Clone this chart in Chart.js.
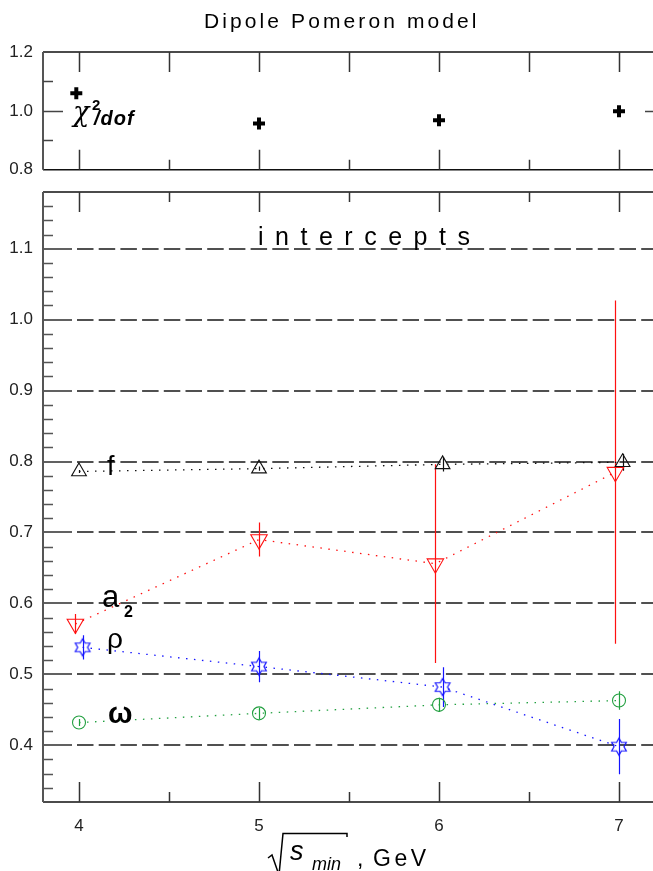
<!DOCTYPE html>
<html>
<head>
<meta charset="utf-8">
<title>Dipole Pomeron model</title>
<script src="https://cdn.jsdelivr.net/npm/chart.js@4.4.0/dist/chart.umd.min.js"></script>
<style>
  html, body { margin: 0; padding: 0; background: #fff; overflow: hidden; width: 653px; height: 871px; }
  #wrap { position: relative; width: 653px; height: 871px; overflow: hidden; }
  #wrap canvas { position: absolute; left: 0; top: 0; }
</style>
</head>
<body>
<div id="wrap">
  <canvas id="chart-chi" width="660" height="190" style="width:660px;height:190px"></canvas>
  <canvas id="chart-int" width="660" height="871" style="width:660px;height:871px"></canvas>
</div>
<script>
/* data */
var X_TICKS = [4, 5, 6, 7];
var CHI_TICKS = [0.8, 1.0, 1.2];
var INT_TICKS = [0.4, 0.5, 0.6, 0.7, 0.8, 0.9, 1.0, 1.1];

var CHI_X = [3.985, 5.0, 6.0, 7.0];
var CHI_Y = [1.060, 0.957, 0.968, 0.999];

var F_X = [4.0, 5.0, 6.02, 7.02];
var F_Y = [0.786, 0.790, 0.796, 0.799];
var F_ERR = [0.002, 0.003, 0.010, 0.012];

var A2_X = [3.98, 5.0, 5.98, 6.98];
var A2_Y = [0.571, 0.690, 0.656, 0.785];
var A2_ERR = [0.014, 0.024, 0.140, 0.242];

var RHO_X = [4.02, 5.0, 6.02, 7.0];
var RHO_Y = [0.538, 0.511, 0.482, 0.398];
var RHO_ERR = [0.017, 0.022, 0.028, 0.039];

var OMEGA_X = [4.0, 5.0, 6.0, 7.0];
var OMEGA_Y = [0.432, 0.445, 0.457, 0.463];
var OMEGA_ERR = [0.005, 0.008, 0.010, 0.013];

(function () {
  "use strict";

  var RED = "#ff1010", BLUE = "#1414ff", GREEN = "#22a040", INK = "#111", GRID = "#505050";
  var FONT = "'Liberation Sans', Arial, sans-serif";

  function pts(xs, ys) { return xs.map(function (x, i) { return { x: x, y: ys[i] }; }); }

  function spaced(ctx, text, x, y, gap) {
    for (var i = 0; i < text.length; i++) {
      ctx.fillText(text[i], x, y);
      x += ctx.measureText(text[i]).width + gap;
    }
  }

  /* hexagram outline used for the rho points */
  function starImage(color) {
    var c = document.createElement("canvas");
    c.width = 22; c.height = 22;
    var g = c.getContext("2d"), R = 8.5, r = R / Math.sqrt(3);
    g.strokeStyle = color; g.lineWidth = 1.2;
    g.beginPath();
    for (var k = 0; k < 12; k++) {
      var a = -Math.PI / 2 + k * Math.PI / 6, rr = k % 2 ? r : R;
      var px = 11 + rr * Math.cos(a), py = 11 + rr * Math.sin(a);
      if (k) g.lineTo(px, py); else g.moveTo(px, py);
    }
    g.closePath(); g.stroke();
    return c;
  }

  function fixedTicks(list) {
    return function (scale) { scale.ticks = list.map(function (v) { return { value: v }; }); };
  }

  var tickFont = { family: FONT, size: 17 };

  /* ---- frame + ticks shared by both panels (right edge falls off the page) */
  function drawFrame(ctx, a) {
    ctx.save();
    ctx.strokeStyle = INK; ctx.lineWidth = 1.5;
    ctx.beginPath();
    ctx.moveTo(a.left, a.top); ctx.lineTo(a.right + 5, a.top);
    ctx.moveTo(a.left, a.bottom); ctx.lineTo(a.right + 5, a.bottom);
    ctx.stroke();
    ctx.strokeStyle = "#555"; ctx.lineWidth = 2;
    ctx.beginPath(); ctx.moveTo(a.left, a.top); ctx.lineTo(a.left, a.bottom); ctx.stroke();
    ctx.restore();
  }

  function xTickMarks(ctx, chart, topHalfLong) {
    var x = chart.scales.x, a = chart.chartArea;
    ctx.save();
    ctx.strokeStyle = "#333"; ctx.lineWidth = 1.5;
    ctx.beginPath();
    for (var v = 4; v <= 7.001; v += 0.5) {
      var px = Math.round(x.getPixelForValue(v)) + 0.5;
      var major = Math.abs(v - Math.round(v)) < 1e-6;
      var lt = major || topHalfLong ? 20 : 10, lb = major ? 20 : 10;
      ctx.moveTo(px, a.top); ctx.lineTo(px, a.top + lt);
      ctx.moveTo(px, a.bottom); ctx.lineTo(px, a.bottom - lb);
    }
    ctx.stroke();
    ctx.restore();
  }

  /* ---- top panel: chi2/dof --------------------------------------------- */
  var chiDecor = {
    id: "chiDecor",
    afterDraw: function (chart) {
      var ctx = chart.ctx, a = chart.chartArea, y = chart.scales.y;
      drawFrame(ctx, a);
      xTickMarks(ctx, chart, true);
      ctx.save();
      ctx.strokeStyle = "#444"; ctx.lineWidth = 1.5;
      ctx.beginPath();
      [0.9, 1.0, 1.1].forEach(function (v) {
        var py = Math.round(y.getPixelForValue(v)) + 0.5;
        ctx.moveTo(a.left, py); ctx.lineTo(a.left + (v === 1.0 ? 20 : 10), py);
      });
      var p1 = Math.round(y.getPixelForValue(1.0)) + 0.5;
      ctx.moveTo(a.right, p1); ctx.lineTo(a.right - 10, p1);
      ctx.stroke();

      ctx.fillStyle = "#000";
      ctx.textBaseline = "alphabetic";
      ctx.font = "21px " + FONT;
      spaced(ctx, "Dipole Pomeron model", 204, 28, 3.1);

      ctx.font = "italic 27px 'DejaVu Serif', serif";
      ctx.fillText("\u03c7", 73, 121);
      ctx.font = "bold 15px " + FONT;
      ctx.fillText("2", 92, 110);
      ctx.font = "italic bold 20px " + FONT;
      spaced(ctx, "/dof", 94, 125, 1);
      ctx.restore();
    }
  };

  new Chart(document.getElementById("chart-chi"), {
    type: "scatter",
    data: {
      datasets: [{
        label: "chi2/dof",
        data: pts(CHI_X, CHI_Y),
        pointStyle: "cross", pointRadius: 6, pointBorderWidth: 4,
        borderColor: "#000", pointBorderColor: "#000", showLine: false
      }]
    },
    options: {
      responsive: false, animation: false,
      layout: { autoPadding: false, padding: { top: 52, bottom: 18, right: 5, left: 0 } },
      plugins: { legend: { display: false }, tooltip: { enabled: false } },
      scales: {
        x: { type: "linear", min: 3.8, max: 7.2, display: false },
        y: {
          min: 0.8, max: 1.2,
          afterBuildTicks: fixedTicks(CHI_TICKS),
          afterFit: function (s) { s.width = 43; },
          grid: { display: false, drawTicks: false }, border: { display: false },
          ticks: { font: tickFont, color: "#222", padding: 10, autoSkip: false,
                   callback: function (v) { return v.toFixed(1); } }
        }
      }
    },
    plugins: [chiDecor]
  });

  /* ---- lower panel: intercepts ----------------------------------------- */
  var ERRORS = [
    { ds: 0, err: F_ERR, color: INK },
    { ds: 1, err: A2_ERR, color: RED },
    { ds: 2, err: RHO_ERR, color: BLUE },
    { ds: 3, err: OMEGA_ERR, color: GREEN }
  ];

  var intDecor = {
    id: "intDecor",
    beforeDatasetsDraw: function (chart) {
      var ctx = chart.ctx, a = chart.chartArea, y = chart.scales.y;
      ctx.save();
      ctx.strokeStyle = GRID; ctx.lineWidth = 1.8;
      INT_TICKS.forEach(function (v) {
        var py = Math.round(y.getPixelForValue(v));
        ctx.setLineDash([]);
        ctx.beginPath(); ctx.moveTo(a.left, py); ctx.lineTo(a.left + 29, py); ctx.stroke();
        ctx.setLineDash([16.5, 5.2]);
        ctx.beginPath(); ctx.moveTo(a.left + 34, py); ctx.lineTo(a.right, py); ctx.stroke();
      });
      ctx.setLineDash([]);
      ctx.strokeStyle = "#555"; ctx.lineWidth = 1.5;
      ctx.beginPath();
      for (var k = 17; k <= 59; k++) {
        if (k % 5 === 0) continue;
        var py = Math.round(y.getPixelForValue(k * 0.02)) + 0.5;
        if (py <= a.top + 1 || py >= a.bottom - 1) continue;
        ctx.moveTo(a.left, py); ctx.lineTo(a.left + 10, py);
      }
      ctx.stroke();
      ctx.restore();

      /* error bars */
      ctx.save();
      ctx.lineWidth = 1.2;
      ERRORS.forEach(function (e) {
        var meta = chart.getDatasetMeta(e.ds), data = chart.data.datasets[e.ds].data;
        ctx.strokeStyle = e.color;
        ctx.beginPath();
        data.forEach(function (p, i) {
          var px = Math.round(meta.data[i].x) + 0.5;
          ctx.moveTo(px, y.getPixelForValue(p.y + e.err[i]));
          ctx.lineTo(px, y.getPixelForValue(p.y - e.err[i]));
        });
        ctx.stroke();
      });
      ctx.restore();
    },
    afterDraw: function (chart) {
      var ctx = chart.ctx, a = chart.chartArea;
      drawFrame(ctx, a);
      xTickMarks(ctx, chart, false);

      ctx.save();
      ctx.fillStyle = "#000";
      ctx.textBaseline = "alphabetic";
      ctx.font = "25px " + FONT;
      spaced(ctx, "intercepts", 258, 245, 11.5);

      ctx.font = "27px " + FONT;
      ctx.fillText("f", 107, 475);
      ctx.font = "31px " + FONT;
      ctx.fillText("a", 102, 607);
      ctx.font = "bold 16px " + FONT;
      ctx.fillText("2", 124, 617);
      ctx.font = "28px " + FONT;
      ctx.fillText("\u03c1", 107, 648);
      ctx.font = "bold 29px " + FONT;
      ctx.fillText("\u03c9", 108, 723);

      /* axis title: sqrt(s_min), GeV */
      ctx.strokeStyle = "#000"; ctx.lineWidth = 1.5;
      ctx.beginPath();
      ctx.moveTo(268, 858); ctx.lineTo(272, 855); ctx.lineTo(279, 875);
      ctx.lineTo(283, 833.5); ctx.lineTo(347, 833.5); ctx.lineTo(347, 837);
      ctx.stroke();
      ctx.font = "italic 27px " + FONT;
      ctx.fillText("s", 290, 860);
      ctx.font = "italic 18px " + FONT;
      ctx.fillText("min", 312, 870);
      ctx.font = "23px " + FONT;
      ctx.fillText(",", 357, 866);
      spaced(ctx, "GeV", 373, 866, 3.5);
      ctx.restore();
    }
  };

  var dotted = [1.5, 6.5];

  new Chart(document.getElementById("chart-int"), {
    type: "scatter",
    data: {
      datasets: [
        { label: "f", data: pts(F_X, F_Y), showLine: true,
          borderColor: INK, borderWidth: 1.3, borderDash: dotted,
          pointStyle: "triangle", pointRadius: 8.5, pointBorderWidth: 1.1,
          pointBorderColor: INK, pointBackgroundColor: "rgba(0,0,0,0)" },
        { label: "a2", data: pts(A2_X, A2_Y), showLine: true,
          borderColor: RED, borderWidth: 1.3, borderDash: dotted,
          pointStyle: "triangle", pointRotation: 180, pointRadius: 9.5, pointBorderWidth: 1.1,
          pointBorderColor: RED, pointBackgroundColor: "rgba(0,0,0,0)" },
        { label: "rho", data: pts(RHO_X, RHO_Y), showLine: true,
          borderColor: BLUE, borderWidth: 1.3, borderDash: dotted,
          pointStyle: starImage(BLUE), pointRadius: 8,
          pointBorderColor: BLUE, pointBackgroundColor: "rgba(0,0,0,0)" },
        { label: "omega", data: pts(OMEGA_X, OMEGA_Y), showLine: true,
          borderColor: GREEN, borderWidth: 1.3, borderDash: dotted,
          pointStyle: "circle", pointRadius: 6.5, pointBorderWidth: 1.1,
          pointBorderColor: GREEN, pointBackgroundColor: "rgba(0,0,0,0)" }
      ]
    },
    options: {
      responsive: false, animation: false,
      layout: { autoPadding: false, padding: { top: 192, bottom: 0, right: 5, left: 0 } },
      plugins: { legend: { display: false }, tooltip: { enabled: false } },
      scales: {
        x: {
          type: "linear", min: 3.8, max: 7.2,
          afterBuildTicks: fixedTicks(X_TICKS),
          afterFit: function (s) { s.height = 69; },
          grid: { display: false, drawTicks: false }, border: { display: false },
          ticks: { font: tickFont, color: "#222", padding: 14, autoSkip: false, maxRotation: 0,
                   callback: function (v) { return String(v); } }
        },
        y: {
          min: 0.32, max: 1.18,
          afterBuildTicks: fixedTicks(INT_TICKS),
          afterFit: function (s) { s.width = 43; },
          grid: { display: false, drawTicks: false }, border: { display: false },
          ticks: { font: tickFont, color: "#222", padding: 10, autoSkip: false,
                   callback: function (v) { return v.toFixed(1); } }
        }
      }
    },
    plugins: [intDecor]
  });
})();
</script>
</body>
</html>
